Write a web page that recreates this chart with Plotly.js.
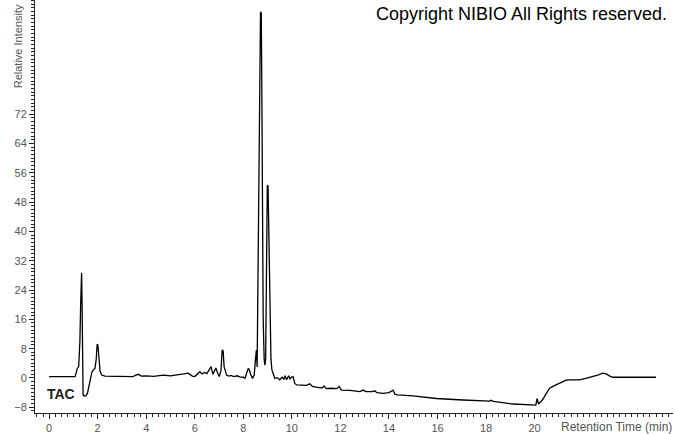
<!DOCTYPE html>
<html>
<head>
<meta charset="utf-8">
<script src="https://cdn.plot.ly/plotly-3.0.1.min.js"></script>
<style>html,body{margin:0;padding:0;background:#fff;}#chart{width:674px;height:434px;}</style>
</head>
<body>
<div id="chart"></div>
<script>
// Retention time (min)
const retentionTime = [
0.0,0.5,1.0,1.07,1.12,1.16,1.22,1.27,1.30,1.34,1.36,1.38,1.40,1.45,1.52,1.58,1.64,1.70,1.76,1.82,1.89,1.94,1.98,2.01,2.05,2.10,2.17,2.3,2.8,3.2,3.45,3.55,3.68,3.8,4.0,4.3,4.7,5.0,5.3,5.55,5.73,5.9,6.0,6.1,6.21,6.3,6.4,6.5,6.6,6.67,6.75,6.82,6.87,6.95,7.01,7.08,7.13,7.17,7.21,7.26,7.31,7.4,7.5,7.6,7.75,7.85,8.0,8.07,8.14,8.2,8.25,8.3,8.38,8.45,8.5,8.54,8.57,8.6,8.64,8.68,8.71,8.74,8.76,8.79,8.82,8.86,8.89,8.92,8.94,8.96,8.99,9.02,9.05,9.08,9.11,9.14,9.18,9.24,9.3,9.4,9.5,9.6,9.67,9.72,9.78,9.84,9.88,9.92,9.98,10.05,10.12,10.2,10.5,10.6,10.74,10.85,11.1,11.25,11.33,11.42,11.6,11.85,11.95,12.04,12.4,12.8,12.95,13.05,13.3,13.42,13.5,13.76,14.0,14.17,14.24,14.35,14.99,15.95,17.05,18.15,18.2,18.3,19.11,20.05,20.1,20.16,20.25,20.34,20.48,20.62,20.75,20.89,21.05,21.17,21.3,21.44,21.65,21.75,21.85,22.1,22.4,22.6,22.81,22.95,23.1,23.22,25.0
];
// Relative intensity
const relativeIntensity = [
0.35,0.35,0.35,0.4,1.5,2.6,3.1,10,20,28.7,20,3,-4.6,-4.9,-4.8,-4.2,-2,-0.8,1.5,2.2,2.6,5,9.2,9.0,5,1.8,0.8,0.5,0.45,0.4,0.35,0.7,1.0,0.5,0.6,0.45,0.8,0.6,0.8,1.1,1.3,0.5,0.4,1.0,1.7,1.1,1.5,1.2,2.5,3.1,1.0,2.2,2.7,1.2,0.4,2,7.6,7.4,3,2,0.8,0.5,0.7,0.4,0.6,0.3,0.2,-0.1,1.5,2.6,2.2,1,-0.1,0.8,5,7.6,3,20,42.6,80,99.9,99.5,82,40,15.8,5,3.5,5,20,38.5,52.6,52.3,37.6,20,12.2,5,2.2,0.8,-0.1,0.1,-0.5,0.2,-0.3,0.6,-0.5,0.3,0.5,-0.2,0.2,0.35,-1.5,-1.9,-1.9,-2.0,-1.6,-2.3,-2.6,-2.7,-2.2,-2.9,-2.8,-2.9,-2.3,-3.3,-3.4,-3.7,-3.3,-3.7,-3.7,-3.5,-4.0,-4.2,-4.0,-3.3,-4.4,-4.6,-4.9,-5.6,-6.0,-6.3,-6.1,-6.4,-7.1,-7.4,-5.6,-7.1,-6.5,-5.8,-4.2,-2.8,-2.3,-1.9,-1.4,-1.0,-0.6,-0.5,-0.5,-0.7,-0.5,-0.1,0.35,0.8,1.3,1.1,0.5,0.2,0.2
];
const xTickVals = [0,2,4,6,8,10,12,14,16,18,20];
const yTickVals = [-8,0,8,16,24,32,40,48,56,64,72];
const traceLabel = "TAC";
const copyrightText = "Copyright NIBIO All Rights reserved.";
const xTitle = "Retention Time (min)";
const yTitle = "Relative Intensity";

const fontFam = "Liberation Sans, Arial, sans-serif";
const tickFont = {family: fontFam, size: 11, color: "#555"};

const trace = {
  x: retentionTime, y: relativeIntensity, type: "scatter", mode: "lines",
  line: {color: "#000", width: 1.3}, hoverinfo: "skip", showlegend: false
};

const layout = {
  width: 674, height: 434,
  margin: {l: 35, r: 1, t: 0, b: 21, pad: 0},
  paper_bgcolor: "#fff", plot_bgcolor: "#fff",
  showlegend: false,
  xaxis: {
    range: [-0.58, 25.7], showline: true, linecolor: "#222", linewidth: 1,
    showgrid: false, zeroline: false,
    tickmode: "array", tickvals: xTickVals, ticks: "outside", ticklen: 5, tickcolor: "#222",
    tickfont: tickFont,
    minor: {tickmode: "linear", tick0: 0, dtick: 0.25, ticks: "outside", ticklen: 3, tickcolor: "#222", showgrid: false}
  },
  yaxis: {
    range: [-9.55, 103.1], showline: true, linecolor: "#222", linewidth: 1,
    showgrid: false, zeroline: false,
    tickmode: "array", tickvals: yTickVals, ticks: "outside", ticklen: 5, tickcolor: "#222",
    tickfont: tickFont,
    minor: {tickmode: "linear", tick0: 0, dtick: 1, ticks: "outside", ticklen: 3, tickcolor: "#222", showgrid: false}
  },
  annotations: [
    {text: copyrightText, xref: "paper", yref: "paper", x: 0.763, y: 0.966, xanchor: "center", yanchor: "middle",
     showarrow: false, font: {family: fontFam, size: 18, color: "#000"}},
    {text: "<b>" + traceLabel + "</b>", xref: "paper", yref: "paper", x: 0.0408, y: 0.046, xanchor: "center", yanchor: "middle",
     showarrow: false, font: {family: fontFam, size: 14, color: "#222"}},
    {text: xTitle, xref: "paper", yref: "paper", x: 0.9107, y: -0.034, xanchor: "center", yanchor: "middle",
     showarrow: false, font: {family: fontFam, size: 12, color: "#555"}},
    {text: yTitle, xref: "paper", yref: "paper", x: -0.0266, y: 0.888, xanchor: "center", yanchor: "middle",
     textangle: -90, showarrow: false, font: {family: fontFam, size: 11, color: "#555"}}
  ]
};

Plotly.newPlot("chart", [trace], layout, {displayModeBar: false, staticPlot: true});
</script>
</body>
</html>
